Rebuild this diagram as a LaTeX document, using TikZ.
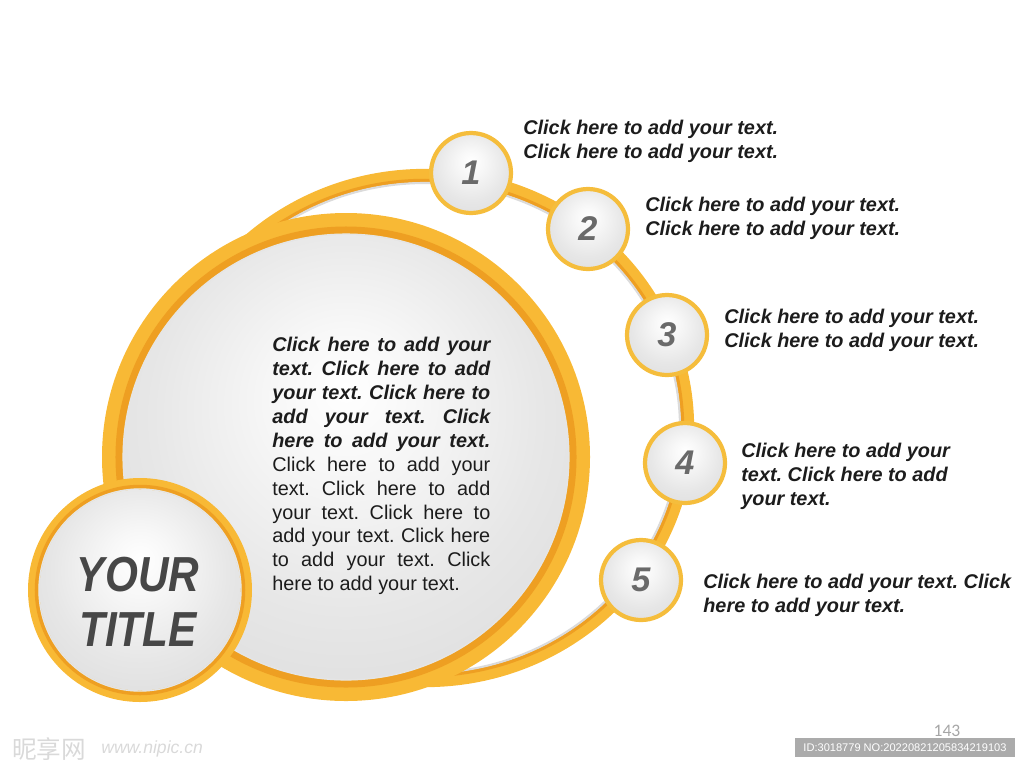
\documentclass[tikz,border=0pt]{standalone}
\usepackage{fontspec}
\setmainfont{Liberation Sans}
\newfontfamily\titlefont[FakeStretch=0.86]{Liberation Sans}
\newfontfamily\cjkfont{Noto Sans CJK SC}
\newfontfamily\pagefont{Carlito}

\definecolor{ringorange}{HTML}{F8B935}
\definecolor{ringdark}{HTML}{EE9F22}
\definecolor{balledge}{HTML}{F5BD3C}
\definecolor{numgray}{HTML}{6A6A6A}
\definecolor{titlegray}{HTML}{474747}
\definecolor{textdark}{HTML}{1C1C1C}
\definecolor{idbar}{HTML}{ABABAB}
\pgfdeclareradialshading{greyball}{\pgfpoint{0bp}{8bp}}%
  {color(0bp)=(white); color(8bp)=(gray!6); color(22bp)=(gray!19); color(38bp)=(gray!29); color(50bp)=(gray!38)}

\newcommand\bodyline[1]{\makebox[4.36cm][s]{#1}}

\begin{document}
\frenchspacing
\begin{tikzpicture}[x=0.02cm, y=-0.02cm, line cap=round, line join=round,
  numball/.style={circle, minimum size=1.6cm, inner sep=0pt, draw=balledge,
    line width=2.4pt, shade, shading=greyball, text=numgray,
    font=\fontsize{19.5}{19.5}\selectfont\bfseries\itshape},
  sidetext/.style={anchor=north west, inner sep=0pt, align=left, text=textdark,
    font=\fontsize{11.3}{13.6}\selectfont\bfseries\itshape},
  bodytext/.style={anchor=north west, inner sep=0pt, align=left, text=textdark,
    font=\fontsize{11.3}{13.6}\selectfont}]

  \useasboundingbox (0,0) rectangle (1024,768);

  %% ---- back ring carrying the numbered balls (left part hidden) ----
  \draw[ringorange, line width=7pt]  (425,428) ellipse [x radius=263, y radius=253];
  \draw[ringdark, line width=2pt]    (425,428) ellipse [x radius=257.5, y radius=247.5];
  \draw[gray!28, line width=1.2pt]   (425,428) ellipse [x radius=255, y radius=245];

  %% ---- big disc ----
  \fill[ringorange] (346,457) circle (244);
  \draw[ringdark, line width=4pt] (346,457) circle (227);
  \draw[white!80!gray, line width=1.2pt] (346,457) circle (222.5);
  \shade[shading=greyball] (346,457) circle (222);

  %% ---- title disc ----
  \fill[ringorange] (140,590) circle (112);
  \draw[ringdark, line width=2pt] (140,590) circle (103.5);
  \draw[white!80!gray, line width=0.8pt] (140,590) circle (101);
  \shade[shading=greyball] (140,590) circle (100.5);
  \node[align=center, text=titlegray, inner sep=0pt,
    font=\titlefont\fontsize{28}{31.2}\selectfont\bfseries\itshape]
    (title) at (138,602) {YOUR\\TITLE};

  %% ---- numbered balls ----
  \node[numball] (n1) at (471,173) {1};
  \node[numball] (n2) at (588,229) {2};
  \node[numball] (n3) at (667,335) {3};
  \node[numball] (n4) at (685,463) {4};
  \node[numball] (n5) at (641,580) {5};

  %% ---- side texts ----
  \node[sidetext] (t1) at (523,120) {Click here to add your text.\\Click here to add your text.};
  \node[sidetext] (t2) at (645,197) {Click here to add your text.\\Click here to add your text.};
  \node[sidetext] (t3) at (724,309) {Click here to add your text.\\Click here to add your text.};
  \node[sidetext] (t4) at (741,443) {Click here to add your\\text. Click here to add\\your text.};
  \node[sidetext] (t5) at (703,574) {Click here to add your text. Click\\here to add your text.};

  %% ---- text inside the big disc ----
  \node[bodytext] (body) at (272,337) {%
    {\bfseries\itshape\bodyline{Click here to add your}}\\
    {\bfseries\itshape\bodyline{text. Click here to add}}\\
    {\bfseries\itshape\bodyline{your text. Click here to}}\\
    {\bfseries\itshape\bodyline{add your text. Click}}\\
    {\bfseries\itshape\bodyline{here to add your text.}}\\
    \bodyline{Click here to add your}\\
    \bodyline{text. Click here to add}\\
    \bodyline{your text. Click here to}\\
    \bodyline{add your text. Click here}\\
    \bodyline{to add your text. Click}\\
    here to add your text.};

  %% ---- page number + watermark ----
  \node[text=gray!70, font=\pagefont\fontsize{10}{10}\selectfont] (page) at (947,731) {143};
  \fill[idbar] (795,738) rectangle (1015,757);
  \node[text=white, inner sep=0pt, font=\fontsize{6.3}{6.3}\selectfont] (idtext) at (905,748)
    {ID:3018779 NO:20220821205834219103};
  \node[anchor=west, inner sep=0pt, text=gray!30, font=\cjkfont\fontsize{14}{14}\selectfont]
    (logo) at (12,749) {昵享网};
  \node[anchor=west, inner sep=0pt, text=gray!30, font=\fontsize{10}{10}\selectfont\itshape]
    (site) at (101,749) {www.nipic.cn};

\end{tikzpicture}
\end{document}
